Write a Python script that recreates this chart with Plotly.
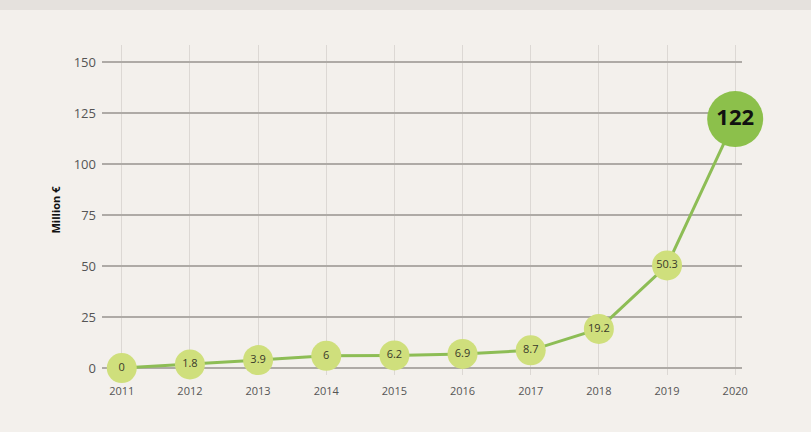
import plotly.graph_objects as go

years = [2011, 2012, 2013, 2014, 2015, 2016, 2017, 2018, 2019, 2020]
values = [0, 1.8, 3.9, 6, 6.2, 6.9, 8.7, 19.2, 50.3, 122]
y_ticks = [0, 25, 50, 75, 100, 125, 150]

vmax = max(values)
labels = [f"<b>{v:g}</b>" if v == vmax else f"{v:g}" for v in values]
sizes = [56 if v == vmax else 30 for v in values]
colors = ["#8cc04b" if v == vmax else "#cfdf7c" for v in values]
font_sizes = [22 if v == vmax else 11 for v in values]
font_colors = ["#111111" if v == vmax else "#3a3a2a" for v in values]

fig = go.Figure()
fig.add_trace(go.Scatter(
    x=years, y=values, mode="lines+markers+text",
    line=dict(color="#8dbd55", width=3),
    marker=dict(size=sizes, color=colors, line=dict(width=0), opacity=1),
    text=labels, textposition="middle center",
    textfont=dict(family="Open Sans", size=font_sizes, color=font_colors),
    cliponaxis=False, hoverinfo="skip",
))

fig.update_layout(
    width=811, height=432,
    margin=dict(l=102, r=69, t=45, b=57),
    paper_bgcolor="#f3f0ec", plot_bgcolor="#f3f0ec",
    showlegend=False,
    font=dict(family="Open Sans", color="#555555"),
    shapes=[dict(type="rect", xref="paper", yref="paper", x0=-0.2, x1=1.2,
                 y0=1.0 + 35/330, y1=1.0 + 45/330, fillcolor="#e5e1dd",
                 line=dict(width=0), layer="below")],
)
fig.update_xaxes(
    range=[2010.71, 2020.1], tickvals=years, ticktext=[str(y) for y in years],
    showgrid=True, gridcolor="#dcd8d4", gridwidth=1,
    zeroline=False, showline=False, ticks="", tickfont=dict(size=11, color="#555555"),
    ticklabelstandoff=8,
)
fig.update_yaxes(
    range=[-3.4, 158.3], tickvals=y_ticks,
    showgrid=True, gridcolor="#aeaaa6", gridwidth=2,
    zeroline=False, showline=False, ticks="", tickfont=dict(size=13, color="#555555"),
    ticklabelstandoff=5,
    title=dict(text="<b>Million €</b>", font=dict(size=11, color="#111111"), standoff=10),
)
fig.write_html("out.html")
